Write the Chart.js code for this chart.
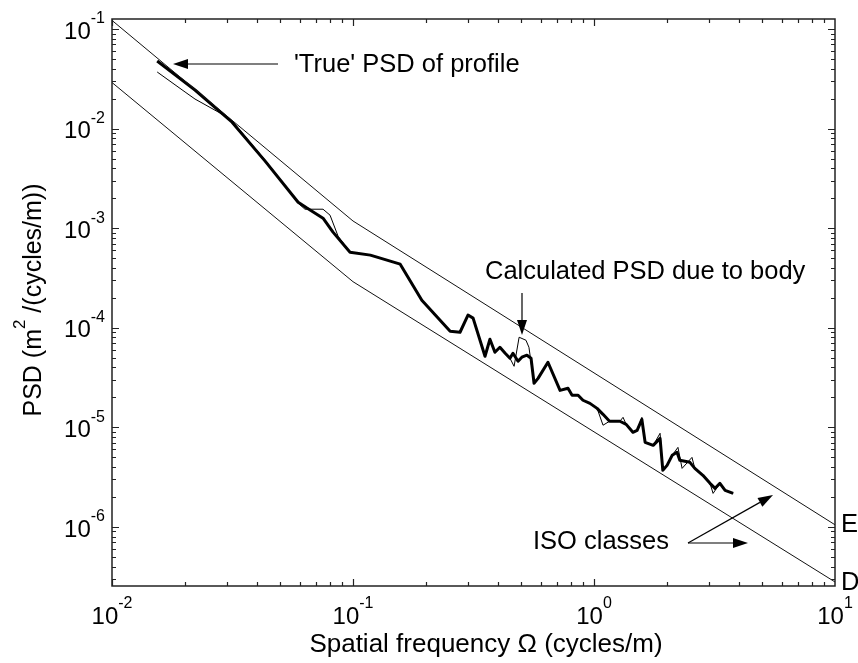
<!DOCTYPE html>
<html>
<head>
<meta charset="utf-8">
<script src="https://cdn.jsdelivr.net/npm/chart.js@4.4.1/dist/chart.umd.min.js"></script>
<style>
html, body { margin: 0; padding: 0; background: #fff; }
canvas { display: block; }
</style>
</head>
<body>
<canvas id="psdChart" width="858" height="663"></canvas>
<script>
// 'True' PSD of profile (thick line)
const freqTrue = [0.0154, 0.0221, 0.0315, 0.0432, 0.0592, 0.0644, 0.0751, 0.0826, 0.0972, 0.118,
    0.157, 0.193, 0.253, 0.278, 0.300, 0.315, 0.353, 0.370, 0.388, 0.407,
    0.428, 0.448, 0.461, 0.484, 0.502, 0.527, 0.548, 0.564, 0.586, 0.644,
    0.723, 0.780, 0.811, 0.859, 0.900, 0.962, 1.03, 1.09, 1.16, 1.28,
    1.36, 1.45, 1.51, 1.58, 1.63, 1.76, 1.88, 1.93, 2.01, 2.11,
    2.21, 2.27, 2.50, 2.62, 2.83, 3.03, 3.18, 3.33, 3.50, 3.78];
const psdTrue = [0.0477, 0.0244, 0.0116, 0.00471, 0.00182, 0.00159, 0.00126, 9.12e-4, 5.74e-4, 5.36e-4,
    4.35e-4, 1.89e-4, 9.22e-5, 9.01e-5, 1.34e-4, 1.25e-4, 5.17e-5, 7.66e-5, 5.67e-5, 6.37e-5,
    5.54e-5, 4.94e-5, 5.54e-5, 4.61e-5, 5.06e-5, 5.30e-5, 4.94e-5, 2.77e-5, 3.10e-5, 4.50e-5,
    2.35e-5, 2.47e-5, 2.10e-5, 2.10e-5, 1.87e-5, 1.74e-5, 1.55e-5, 1.35e-5, 1.15e-5, 1.15e-5,
    1.07e-5, 8.91e-6, 9.33e-6, 1.20e-5, 7.06e-6, 6.59e-6, 7.75e-6, 3.70e-6, 4.15e-6, 5.23e-6,
    5.61e-6, 4.66e-6, 4.45e-6, 3.87e-6, 3.30e-6, 2.74e-6, 2.44e-6, 2.74e-6, 2.33e-6, 2.17e-6];

// calculated PSD due to body (thin line)
const freqCalc = [0.0154, 0.0201, 0.0221, 0.0300, 0.0315, 0.0432, 0.0592, 0.0632, 0.0751, 0.0803,
    0.0867, 0.0972, 0.118, 0.157, 0.193, 0.253, 0.278, 0.300, 0.315, 0.353,
    0.370, 0.388, 0.407, 0.428, 0.448, 0.466, 0.489, 0.522, 0.537, 0.564,
    0.586, 0.644, 0.723, 0.780, 0.811, 0.859, 0.900, 0.962, 1.03, 1.09,
    1.16, 1.28, 1.32, 1.36, 1.45, 1.51, 1.58, 1.63, 1.76, 1.88,
    1.93, 2.01, 2.11, 2.23, 2.32, 2.55, 2.62, 2.83, 3.03, 3.12,
    3.33, 3.50, 3.78];
const psdCalc = [0.0370, 0.0233, 0.0198, 0.0131, 0.0119, 0.00482, 0.00178, 0.00155, 0.00155, 0.00135,
    8.31e-4, 5.74e-4, 5.36e-4, 4.35e-4, 1.89e-4, 9.22e-5, 9.01e-5, 1.34e-4, 1.25e-4, 5.17e-5,
    7.66e-5, 5.67e-5, 6.37e-5, 5.54e-5, 4.94e-5, 4.10e-5, 8.03e-5, 7.49e-5, 6.37e-5, 2.77e-5,
    3.10e-5, 4.50e-5, 2.35e-5, 2.47e-5, 2.10e-5, 2.10e-5, 1.87e-5, 1.74e-5, 1.55e-5, 1.05e-5,
    1.15e-5, 1.15e-5, 1.26e-5, 1.07e-5, 8.91e-6, 9.33e-6, 1.26e-5, 7.06e-6, 6.59e-6, 8.71e-6,
    3.70e-6, 4.15e-6, 5.23e-6, 6.29e-6, 3.87e-6, 4.99e-6, 3.87e-6, 3.30e-6, 2.74e-6, 2.17e-6,
    2.74e-6, 2.33e-6, 2.17e-6];

// ISO class lines
const isoFreq = [0.01, 0.1, 10];
const isoE = [0.122, 1.18e-3, 1.05e-6];
const isoD = [0.029, 2.9e-4, 2.8e-7];

// axes
const xTicks = [0.01, 0.1, 1, 10];
const xTickExp = ["-2", "-1", "0", "1"];
const yTicks = [1e-6, 1e-5, 1e-4, 1e-3, 1e-2, 1e-1];
const yTickExp = ["-6", "-5", "-4", "-3", "-2", "-1"];
const xRange = [0.01, 10];
const yRange = [2.55e-7, 0.126];

const FONT = "'Liberation Sans', Arial, sans-serif";

function toPoints(xs, ys) {
    return xs.map((x, i) => ({ x: x, y: ys[i] }));
}

function arrow(ctx, x1, y1, x2, y2) {
    const a = Math.atan2(y2 - y1, x2 - x1);
    const len = 15, half = 5;
    const bx = x2 - len * Math.cos(a), by = y2 - len * Math.sin(a);
    ctx.beginPath();
    ctx.moveTo(x1, y1);
    ctx.lineTo(bx, by);
    ctx.stroke();
    ctx.beginPath();
    ctx.moveTo(x2, y2);
    ctx.lineTo(bx + half * Math.sin(a), by - half * Math.cos(a));
    ctx.lineTo(bx - half * Math.sin(a), by + half * Math.cos(a));
    ctx.closePath();
    ctx.fill();
}

function powerLabel(ctx, exp, x, y, align) {
    ctx.font = "24px " + FONT;
    const w1 = ctx.measureText("10").width;
    ctx.font = "16px " + FONT;
    const w2 = ctx.measureText(exp).width;
    let x0 = align === "center" ? x - (w1 + w2) / 2 : x - w1 - w2;
    ctx.textAlign = "left";
    ctx.textBaseline = "middle";
    ctx.font = "24px " + FONT;
    ctx.fillText("10", x0, y);
    ctx.font = "16px " + FONT;
    ctx.fillText(exp, x0 + w1, y - 13);
}

const frame = {
    id: "frame",
    afterDatasetsDraw(chart) {
        const ctx = chart.ctx;
        const { left, right, top, bottom } = chart.chartArea;
        const xs = chart.scales.x, ys = chart.scales.y;
        ctx.save();
        ctx.strokeStyle = "#222";
        ctx.fillStyle = "#000";
        ctx.lineWidth = 1.5;
        ctx.strokeRect(left, top, right - left, bottom - top);

        // ticks, inward on all four sides
        ctx.lineWidth = 1.2;
        ctx.beginPath();
        for (let d = 0.01; d < 10; d *= 10) {
            for (let k = 1; k <= 9; k++) {
                const v = d * k;
                const px = Math.round(xs.getPixelForValue(v)) + 0.5;
                const l = k === 1 ? 7 : 4;
                ctx.moveTo(px, bottom); ctx.lineTo(px, bottom - l);
                ctx.moveTo(px, top); ctx.lineTo(px, top + l);
            }
        }
        for (let d = 1e-7; d < 1; d *= 10) {
            for (let k = 1; k <= 9; k++) {
                const v = d * k;
                if (v < yRange[0] || v > yRange[1]) continue;
                const py = Math.round(ys.getPixelForValue(v)) + 0.5;
                const l = k === 1 ? 7 : 4;
                ctx.moveTo(left, py); ctx.lineTo(left + l, py);
                ctx.moveTo(right, py); ctx.lineTo(right - l, py);
            }
        }
        ctx.stroke();

        // tick labels
        xTicks.forEach((v, i) => powerLabel(ctx, xTickExp[i], xs.getPixelForValue(v), bottom + 31, "center"));
        yTicks.forEach((v, i) => powerLabel(ctx, yTickExp[i], left - 7, ys.getPixelForValue(v) + 3, "right"));

        // axis titles
        ctx.font = "26px " + FONT;
        ctx.textAlign = "center";
        ctx.textBaseline = "middle";
        ctx.fillText("Spatial frequency \u03A9 (cycles/m)", 486, 645);

        ctx.save();
        ctx.translate(34, 300);
        ctx.rotate(-Math.PI / 2);
        const p1 = "PSD (m", p2 = "2", p3 = " /(cycles/m))";
        ctx.font = "25px " + FONT;
        const w1 = ctx.measureText(p1).width, w3 = ctx.measureText(p3).width;
        ctx.font = "17px " + FONT;
        const w2 = ctx.measureText(p2).width;
        let x0 = -(w1 + w2 + w3) / 2;
        ctx.textAlign = "left";
        ctx.font = "25px " + FONT;
        ctx.fillText(p1, x0, 0);
        ctx.font = "17px " + FONT;
        ctx.fillText(p2, x0 + w1, -14);
        ctx.font = "25px " + FONT;
        ctx.fillText(p3, x0 + w1 + w2, 0);
        ctx.restore();

        // annotations
        ctx.font = "25.5px " + FONT;
        ctx.textAlign = "left";
        ctx.textBaseline = "middle";
        ctx.fillText("'True' PSD of profile", 294, 65);
        ctx.fillText("Calculated PSD due to body", 485, 272);
        ctx.fillText("ISO classes", 533, 542);
        ctx.fillText("E", 841, 525);
        ctx.fillText("D", 841, 583);

        ctx.strokeStyle = "#000";
        ctx.lineWidth = 1.2;
        arrow(ctx, 278, 64, 173, 64);
        arrow(ctx, 522, 293, 522, 335);
        arrow(ctx, 688, 543, 773, 495);
        arrow(ctx, 688, 543, 748, 543);
        ctx.restore();
    }
};

const ctx = document.getElementById("psdChart").getContext("2d");

new Chart(ctx, {
    type: "scatter",
    data: {
        datasets: [
            {
                label: "ISO E",
                data: toPoints(isoFreq, isoE),
                showLine: true,
                borderColor: "#111",
                borderWidth: 1,
                pointRadius: 0
            },
            {
                label: "ISO D",
                data: toPoints(isoFreq, isoD),
                showLine: true,
                borderColor: "#111",
                borderWidth: 1,
                pointRadius: 0
            },
            {
                label: "'True' PSD of profile",
                data: toPoints(freqTrue, psdTrue),
                showLine: true,
                borderColor: "#000",
                borderWidth: 3,
                borderJoinStyle: "round",
                pointRadius: 0
            },
            {
                label: "Calculated PSD due to body",
                data: toPoints(freqCalc, psdCalc),
                showLine: true,
                borderColor: "#000",
                borderWidth: 1,
                pointRadius: 0
            }
        ]
    },
    options: {
        responsive: false,
        animation: false,
        layout: {
            padding: { left: 112, right: 23, top: 19, bottom: 77 }
        },
        plugins: {
            legend: { display: false },
            tooltip: { enabled: false }
        },
        scales: {
            x: {
                type: "logarithmic",
                display: false,
                min: xRange[0],
                max: xRange[1]
            },
            y: {
                type: "logarithmic",
                display: false,
                min: yRange[0],
                max: yRange[1]
            }
        }
    },
    plugins: [frame]
});
</script>
</body>
</html>
